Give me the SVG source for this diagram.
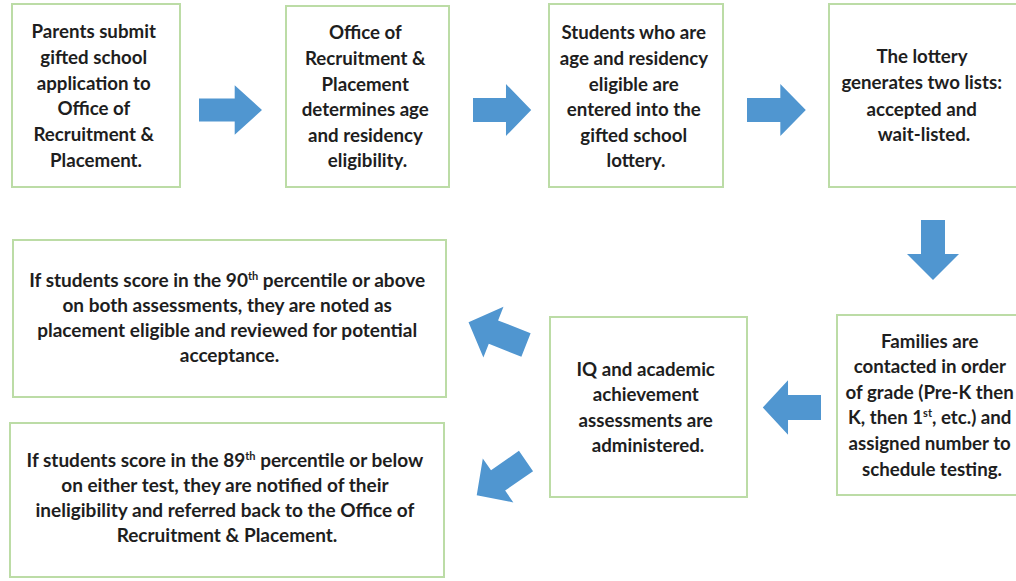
<svg xmlns="http://www.w3.org/2000/svg" xmlns:xlink="http://www.w3.org/1999/xlink" width="1016" height="581" viewBox="0 0 1016 581">
  <style>
    .box { fill: #ffffff; stroke: #bcdca6; stroke-width: 2; }
    .t { font-family: "Lato", "Liberation Sans", sans-serif; font-weight: 700; fill: #1e1e1e; text-anchor: middle; }
    .big { font-size: 18.7px; }
    .mid { font-size: 19px; }
    .arrow { fill: #5096d0; }
    .sup { font-size: 11px; }
  </style>
  <defs>
    <!-- block arrow pointing right, origin at the centre of its tail -->
    <path id="blockArrow" d="M0,-12 H34 V-26 L60,0 L34,26 V12 H0 Z"/>
  </defs>
  <rect width="1016" height="581" fill="#ffffff"/>

  <g id="connectors" class="arrow">
    <use xlink:href="#blockArrow" transform="translate(199,110) scale(1.05,0.95)"/>
    <use xlink:href="#blockArrow" transform="translate(473,110) scale(0.97,1)"/>
    <use xlink:href="#blockArrow" transform="translate(747,110) scale(0.98,1)"/>
    <use xlink:href="#blockArrow" transform="translate(933,220) rotate(90) scale(1,1)"/>
    <use xlink:href="#blockArrow" transform="translate(821,407.5) rotate(180) scale(0.97,1.05)"/>
    <use xlink:href="#blockArrow" transform="translate(526,345) rotate(201.6) scale(1.03,1.05)"/>
    <use xlink:href="#blockArrow" transform="translate(526,461) rotate(145.2) scale(1,1.03)"/>
  </g>

  <g id="apply">
    <rect class="box" x="12" y="4" width="168" height="183"/>
    <text class="t big" x="96">
      <tspan x="96" y="38">Parents submit</tspan>
      <tspan x="96" y="64">gifted school</tspan>
      <tspan x="96" y="90">application to</tspan>
      <tspan x="96" y="115">Office of</tspan>
      <tspan x="96" y="141">Recruitment &amp;</tspan>
      <tspan x="96" y="167">Placement.</tspan>
    </text>
  </g>

  <g id="eligibility">
    <rect class="box" x="286" y="6" width="163" height="181"/>
    <text class="t big" x="367.5">
      <tspan x="367.5" y="39">Office of</tspan>
      <tspan x="367.5" y="65">Recruitment &amp;</tspan>
      <tspan x="367.5" y="91">Placement</tspan>
      <tspan x="367.5" y="116">determines age</tspan>
      <tspan x="367.5" y="142">and residency</tspan>
      <tspan x="367.5" y="167">eligibility.</tspan>
    </text>
  </g>

  <g id="lottery-entry">
    <rect class="box" x="549" y="4" width="174" height="183"/>
    <text class="t big" x="636">
      <tspan x="636" y="39">Students who are</tspan>
      <tspan x="636" y="65">age and residency</tspan>
      <tspan x="636" y="91">eligible are</tspan>
      <tspan x="636" y="116">entered into the</tspan>
      <tspan x="636" y="142">gifted school</tspan>
      <tspan x="636" y="167">lottery.</tspan>
    </text>
  </g>

  <g id="lists">
    <rect class="box" x="829" y="4" width="192" height="183"/>
    <text class="t big" x="924">
      <tspan x="924" y="63">The lottery</tspan>
      <tspan x="924" y="89">generates two lists:</tspan>
      <tspan x="924" y="116">accepted and</tspan>
      <tspan x="924" y="141">wait-listed.</tspan>
    </text>
  </g>

  <g id="contact">
    <rect class="box" x="837" y="315" width="192" height="180"/>
    <text class="t big" x="932">
      <tspan x="932" y="348">Families are</tspan>
      <tspan x="932" y="373">contacted in order</tspan>
      <tspan x="932" y="399">of grade (Pre-K then</tspan>
      <tspan x="932" y="424">K, then 1<tspan class="sup" dy="-7">st</tspan><tspan dy="7">, etc.) and</tspan></tspan>
      <tspan x="932" y="450">assigned number to</tspan>
      <tspan x="932" y="476">schedule testing.</tspan>
    </text>
  </g>

  <g id="assessments">
    <rect class="box" x="550" y="317" width="197" height="180"/>
    <text class="t big" x="648">
      <tspan x="648" y="376">IQ and academic</tspan>
      <tspan x="648" y="401">achievement</tspan>
      <tspan x="648" y="427">assessments are</tspan>
      <tspan x="648" y="452">administered.</tspan>
    </text>
  </g>

  <g id="eligible">
    <rect class="box" x="13" y="240" width="433" height="157"/>
    <text class="t mid" x="229.5">
      <tspan x="229.5" y="287">If students score in the 90<tspan class="sup" dy="-7">th</tspan><tspan dy="7"> percentile or above</tspan></tspan>
      <tspan x="229.5" y="312">on both assessments, they are noted as</tspan>
      <tspan x="229.5" y="337">placement eligible and reviewed for potential</tspan>
      <tspan x="229.5" y="362">acceptance.</tspan>
    </text>
  </g>

  <g id="ineligible">
    <rect class="box" x="10" y="423" width="434" height="154"/>
    <text class="t mid" x="227">
      <tspan x="227" y="467">If students score in the 89<tspan class="sup" dy="-7">th</tspan><tspan dy="7"> percentile or below</tspan></tspan>
      <tspan x="227" y="492">on either test, they are notified of their</tspan>
      <tspan x="227" y="517">ineligibility and referred back to the Office of</tspan>
      <tspan x="227" y="542">Recruitment &amp; Placement.</tspan>
    </text>
  </g>
</svg>
